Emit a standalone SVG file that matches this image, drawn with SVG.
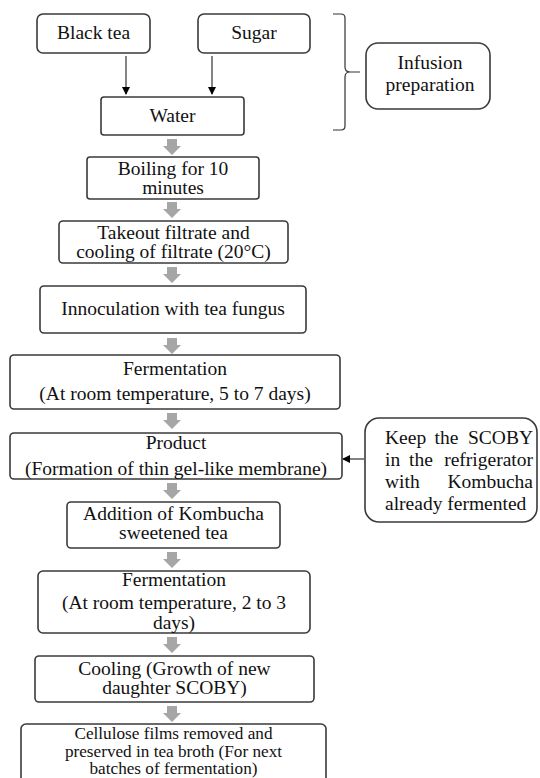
<svg xmlns="http://www.w3.org/2000/svg" xmlns:xlink="http://www.w3.org/1999/xlink" width="540" height="778" viewBox="0 0 540 778">
<style>
.box{fill:#fff;stroke:#3a3a3a;stroke-width:1.6}
text{font-family:'Liberation Serif','DejaVu Serif',serif;font-size:19.5px;fill:#111}
.t{text-anchor:middle}
.sm{font-size:17.2px}
.thin{stroke:#333;stroke-width:1.2;fill:none}
</style>
<defs>
<marker id="ah" markerWidth="8" markerHeight="8" refX="7" refY="4" orient="auto" markerUnits="userSpaceOnUse">
<path d="M0,0 L8,4 L0,8 Z" fill="#000"/>
</marker>
<path id="garrow" d="M-5,0 L5,0 L5,7 L9,7 L0,16 L-9,7 L-5,7 Z" fill="#a6a6a6"/>
</defs>
<rect width="540" height="778" fill="#fff"/>

<g id="connectors">
<line class="thin" x1="126" y1="56" x2="126" y2="94" marker-end="url(#ah)"/>
<line class="thin" x1="212" y1="56" x2="212" y2="94" marker-end="url(#ah)"/>
<path class="thin" d="M333,14 L341,14 Q345,14 345,18 L345,67 Q345,72 350,72 L360,72 M350,72 Q345,72 345,77 L345,126 Q345,130 341,130 L333,130"/>
<line class="thin" x1="364" y1="459" x2="343" y2="459" marker-end="url(#ah)"/>
<use xlink:href="#garrow" x="172" y="139"/>
<use xlink:href="#garrow" x="172" y="202"/>
<use xlink:href="#garrow" x="172" y="267"/>
<use xlink:href="#garrow" x="172" y="338"/>
<use xlink:href="#garrow" x="172" y="413"/>
<use xlink:href="#garrow" x="172" y="483"/>
<use xlink:href="#garrow" x="172" y="552"/>
<use xlink:href="#garrow" x="172" y="637"/>
<use xlink:href="#garrow" x="172" y="706"/>
</g>

<g id="black-tea">
<rect class="box" x="37" y="14" width="113" height="39" rx="6"/>
<text class="t" x="93.5" y="39">Black tea</text>
</g>
<g id="sugar">
<rect class="box" x="198" y="14" width="112" height="39" rx="6"/>
<text class="t" x="254" y="39">Sugar</text>
</g>
<g id="infusion">
<rect class="box" x="366" y="43" width="124" height="66" rx="12"/>
<text class="t" x="430" y="69">Infusion</text>
<text class="t" x="430" y="91">preparation</text>
</g>
<g id="water">
<rect class="box" x="101" y="97" width="143" height="38" rx="3"/>
<text class="t" x="172.5" y="122">Water</text>
</g>
<g id="boiling">
<rect class="box" x="87" y="157" width="172" height="42" rx="3"/>
<text class="t" x="173" y="175">Boiling for 10</text>
<text class="t" x="173" y="194">minutes</text>
</g>
<g id="takeout">
<rect class="box" x="59" y="221" width="229" height="42" rx="4"/>
<text class="t" x="173.5" y="239">Takeout filtrate and</text>
<text class="t" x="173.5" y="258">cooling of filtrate (20°C)</text>
</g>
<g id="innoculation">
<rect class="box" x="40" y="286" width="266" height="47" rx="4"/>
<text class="t" x="173" y="315">Innoculation with tea fungus</text>
</g>
<g id="fermentation1">
<rect class="box" x="10" y="355" width="330" height="54" rx="4"/>
<text class="t" x="175" y="375">Fermentation</text>
<text class="t" x="175" y="400">(At room temperature, 5 to 7 days)</text>
</g>
<g id="product">
<rect class="box" x="10" y="433" width="332" height="46" rx="4"/>
<text class="t" x="176" y="449">Product</text>
<text class="t" x="176" y="475">(Formation of thin gel-like membrane)</text>
</g>
<g id="scoby">
<rect class="box" x="365" y="418" width="172" height="104" rx="14"/>
<text y="444"><tspan x="385">Keep</tspan><tspan x="434.6">the</tspan><tspan x="533" text-anchor="end">SCOBY</tspan></text>
<text y="466"><tspan x="385">in</tspan><tspan x="409">the</tspan><tspan x="533" text-anchor="end">refrigerator</tspan></text>
<text y="488"><tspan x="385">with</tspan><tspan x="533" text-anchor="end">Kombucha</tspan></text>
<text x="385" y="510">already fermented</text>
</g>
<g id="addition">
<rect class="box" x="67" y="502" width="213" height="46" rx="4"/>
<text class="t" x="173.5" y="520">Addition of Kombucha</text>
<text class="t" x="173.5" y="539">sweetened tea</text>
</g>
<g id="fermentation2">
<rect class="box" x="38" y="571" width="272" height="62" rx="5"/>
<text class="t" x="174" y="586">Fermentation</text>
<text class="t" x="174" y="609">(At room temperature, 2 to 3</text>
<text class="t" x="174" y="629">days)</text>
</g>
<g id="cooling">
<rect class="box" x="35" y="656" width="279" height="46" rx="4"/>
<text class="t" x="174.5" y="675">Cooling (Growth of new</text>
<text class="t" x="174.5" y="694">daughter SCOBY)</text>
</g>
<g id="cellulose">
<rect class="box" x="21" y="724" width="305" height="64" rx="5"/>
<text class="t sm" x="173.5" y="739">Cellulose films removed and</text>
<text class="t sm" x="173.5" y="756.5">preserved in tea broth (For next</text>
<text class="t sm" x="173.5" y="774">batches of fermentation)</text>
</g>
</svg>
